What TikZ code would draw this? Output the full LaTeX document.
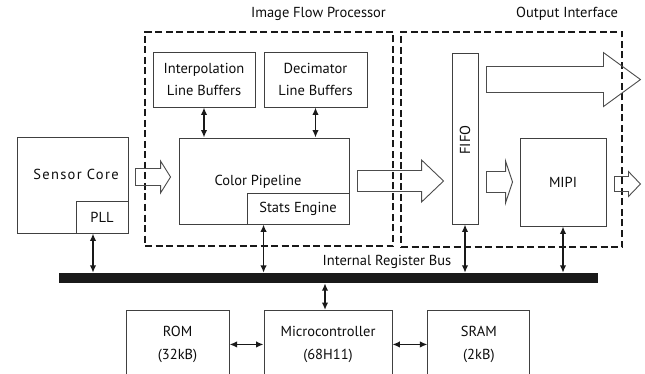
\documentclass[tikz,border=0pt]{standalone}
\usepackage{fontspec}
\setmainfont{PT Sans}
\usetikzlibrary{positioning, calc, arrows.meta}

% open block arrow between two coordinates: tail, tip, shaft half, head half, head length
\newcommand{\hollowarrow}[5]{%
  \draw[hollow] ($(#1)+(0,#3)$) -- ($(#2)+(-#5,#3)$) -- ($(#2)+(-#5,#4)$) -- (#2)
    -- ($(#2)+(-#5,-#4)$) -- ($(#2)+(-#5,-#3)$) -- ($(#1)+(0,-#3)$) -- cycle;}

\begin{document}
\begin{tikzpicture}[
    % Global Styles
    x=1pt, y=-1pt,
    font=\fontsize{14.5}{22.5}\selectfont,
    >={Latex[length=7.5pt,width=6.5pt]},
    % Boxes
    block/.style={draw=black!75, line width=0.9pt, text=black!95, align=center, inner sep=0pt},
    group/.style={draw=black!90, line width=2.2pt, dash pattern=on 7pt off 3.5pt, inner sep=0pt},
    lbl/.style={text=black!95, inner sep=0pt},
    % Connectors
    link/.style={<->, line width=1.6pt, black!90},
    hollow/.style={draw=black!70, line width=0.9pt}
]

    \useasboundingbox (0,0) rectangle (645,374);

    % --- Sensor Core ---
    \node[block, minimum width=111pt, minimum height=96pt] (sensor) at (72.5,185) {};
    \node[lbl] (sensorT) at (76,174) {\addfontfeature{LetterSpace=9}Sensor Core};
    \node[block, minimum width=52pt, minimum height=32pt] (pll) at (102,217) {PLL};

    % --- Image Flow Processor ---
    \node[group, minimum width=248pt, minimum height=214pt] (ifp) at (269,139) {};
    \node[lbl, anchor=east] (ifpT) at ($(ifp.north east)+(-8,-17)$) {Image Flow Processor};
    \node[block, minimum width=102pt, minimum height=55pt] (interp) at (204,79.5) {Interpolation\\Line Buffers};
    \node[block, minimum width=103pt, minimum height=55pt] (decim) at (315.5,79.5) {Decimator\\Line Buffers};
    \node[block, minimum width=170pt, minimum height=86pt] (pipe) at (264,181) {};
    \node[lbl] (pipeT) at (258,182) {Color Pipeline};
    \node[block, minimum width=102pt, minimum height=31pt, anchor=south east] (stats) at (pipe.south east) {Stats Engine};

    % --- Output Interface ---
    \node[group, minimum width=221pt, minimum height=215pt] (oi) at (511.5,139.5) {};
    \node[lbl, anchor=east] (oiT) at ($(oi.north east)+(-5,-17)$) {Output Interface};
    \node[block, minimum width=26pt, minimum height=171pt] (fifo) at (465,138.5) {};
    \node[lbl, rotate=90] (fifoT) at (465,140) {FIFO};
    \node[block, minimum width=86pt, minimum height=88pt] (mipi) at (563,182) {MIPI};

    % --- Internal Register Bus ---
    \node[fill=black!90, minimum width=539pt, minimum height=10pt, inner sep=0pt] (bus) at (328.5,278) {};
    \node[lbl] (busT) at (387,262) {Internal Register Bus};

    % --- Microcontroller and memories ---
    \node[block, minimum width=128pt, minimum height=68pt, anchor=north] (micro) at (328,310) {Microcontroller\\(68H11)};
    \node[block, minimum width=103pt, minimum height=68pt, left=34pt of micro] (rom) {ROM\\(32kB)};
    \node[block, minimum width=102pt, minimum height=68pt, right=35pt of micro] (sram) {SRAM\\(2kB)};

    % --- Data path (open arrows) ---
    \coordinate (a1s) at ($(sensor.east)+(7,-8)$);
    \coordinate (a1e) at ($(pipe.west)+(-8,-4)$);
    \hollowarrow{a1s}{a1e}{8.5}{16}{10}
    \coordinate (a2s) at ($(pipe.east)+(8,0)$);
    \coordinate (a2e) at ($(pipe.east -| fifo.west)+(-8,0)$);
    \hollowarrow{a2s}{a2e}{10.5}{21}{22}
    \coordinate (a3s) at ($(mipi.west -| fifo.east)+(8,0)$);
    \coordinate (a3e) at ($(mipi.west)+(-7,0)$);
    \hollowarrow{a3s}{a3e}{10.5}{21}{7}
    \coordinate (a4s) at ($(fifo.north east)+(8,27)$);
    \coordinate (a4e) at ($(a4s)+(154,0)$);
    \hollowarrow{a4s}{a4e}{13}{27}{37}
    \coordinate (a5s) at ($(mipi.east)+(8,2)$);
    \coordinate (a5e) at ($(mipi.east)+(34,2)$);
    \hollowarrow{a5s}{a5e}{7.5}{12.5}{12}

    % --- Register links ---
    \draw[link] (interp.south) -- (interp.south |- pipe.north);
    \draw[link] (decim.south) -- (decim.south |- pipe.north);
    \draw[link] ([xshift=-9pt]pll.south) -- ([xshift=-9pt]pll.south |- bus.north);
    \draw[link] ([xshift=17pt]stats.south west) -- ([xshift=17pt]stats.south west |- bus.north);
    \draw[link] (fifo.south) -- (fifo.south |- bus.north);
    \draw[link] (mipi.south) -- (mipi.south |- bus.north);
    \draw[link] ([xshift=-3pt]micro.north |- bus.south) -- ([xshift=-3pt]micro.north);
    \draw[link] (rom) -- (micro);
    \draw[link] (micro) -- (sram);

\end{tikzpicture}
\end{document}
